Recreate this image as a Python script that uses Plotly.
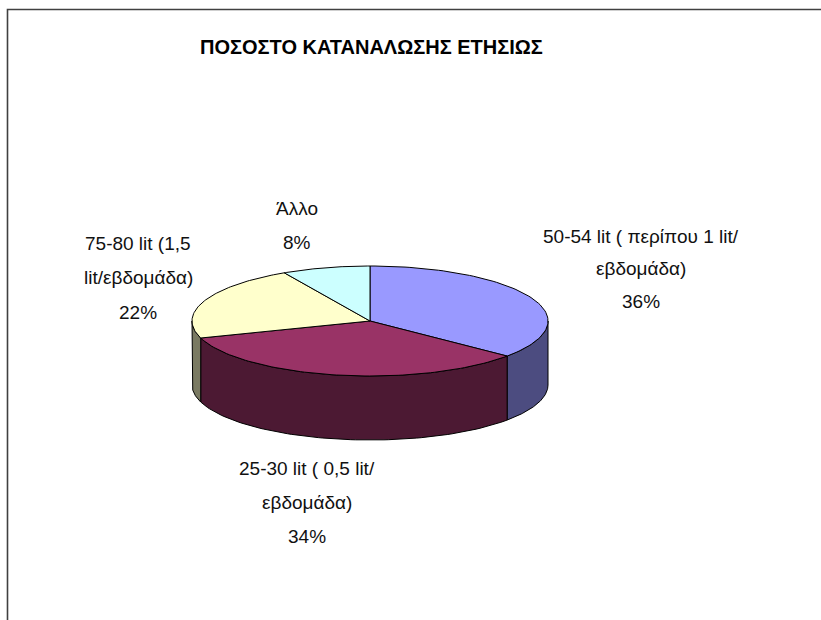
import math
import plotly.graph_objects as go

# ---- data ----
title_text = "ΠΟΣΟΣΤΟ ΚΑΤΑΝΑΛΩΣΗΣ ΕΤΗΣΙΩΣ"
categories = [
    "50-54 lit ( περίπου 1 lit/<br>εβδομάδα)",
    "25-30 lit ( 0,5 lit/<br>εβδομάδα)",
    "75-80 lit (1,5<br>lit/εβδομάδα)",
    "Άλλο",
]
values = [36, 34, 22, 8]

# ---- styles ----
top_colors = ["#9999FF", "#993366", "#FFFFCC", "#CCFFFF"]
side_colors = ["#4C4C80", "#4C1933", "#7A7A62", "#6A8080"]
FONT = "Liberation Sans Narrow, Arial Narrow, Liberation Sans, Arial, sans-serif"

# pie geometry (pixel space)
CX, CY, RX, RY, DEPTH = 370, 321, 178, 55, 64
# label anchor (centre x, first line y) and line spacing
label_pos = [(641, 236, 32.5), (307, 468, 34), (138, 243, 34.5), (297, 208, 34)]


def pt(theta_deg, dy=0.0):
    t = math.radians(theta_deg)
    return CX + RX * math.sin(t), CY - RY * math.cos(t) + dy


def arc(a, b, dy=0.0, n=80):
    xs, ys = [], []
    for i in range(n + 1):
        x, y = pt(a + (b - a) * i / n, dy)
        xs.append(x)
        ys.append(y)
    return xs, ys


total = sum(values)
bounds = []
acc = 0.0
for v in values:
    a = acc / total * 360
    acc += v
    bounds.append((a, acc / total * 360))

fig = go.Figure()

# side walls (front half: 90..270 deg)
for (a, b), col in zip(bounds, side_colors):
    lo, hi = max(a, 90), min(b, 270)
    if hi <= lo:
        continue
    tx, ty = arc(lo, hi)
    bx, by = arc(hi, lo, DEPTH)
    fig.add_trace(go.Scatter(
        x=tx + bx + [tx[0]], y=ty + by + [ty[0]], mode="lines",
        fill="toself", fillcolor=col, line=dict(color="black", width=1),
        hoverinfo="skip", showlegend=False))

# top faces
for (a, b), col, name, v in zip(bounds, top_colors, categories, values):
    xs, ys = arc(a, b)
    fig.add_trace(go.Scatter(
        x=[CX] + xs + [CX], y=[CY] + ys + [CY], mode="lines",
        fill="toself", fillcolor=col, line=dict(color="black", width=1),
        name=name.replace("<br>", " "), text=f"{v}%", hoverinfo="name+text",
        showlegend=False))

# data labels
annotations = []
for name, v, (lx, ly, sp) in zip(categories, values, label_pos):
    lines = name.split("<br>") + [f"{v}%"]
    for i, line in enumerate(lines):
        annotations.append(dict(
            x=lx, y=ly + i * sp, xref="x", yref="y", text=line,
            showarrow=False, xanchor="center", yanchor="middle",
            font=dict(family=FONT, size=19, color="#111111")))

annotations.append(dict(
    x=371, y=47, xref="x", yref="y", text=f"<b>{title_text}</b>",
    showarrow=False, xanchor="center", yanchor="middle",
    font=dict(family=FONT, size=20, color="black")))

fig.update_layout(
    width=821, height=620, autosize=False,
    margin=dict(l=0, r=0, t=0, b=0),
    paper_bgcolor="white", plot_bgcolor="white",
    xaxis=dict(range=[0, 821], visible=False, fixedrange=True),
    yaxis=dict(range=[620, 0], visible=False, fixedrange=True),
    annotations=annotations,
    shapes=[dict(type="rect", xref="x", yref="y", x0=7.5, y0=9.5, x1=840, y1=640,
                 line=dict(color="#404040", width=1.6), layer="above")],
)

fig.write_html("out.html", config={"displayModeBar": False},
               post_script="document.body.style.margin='0';")
